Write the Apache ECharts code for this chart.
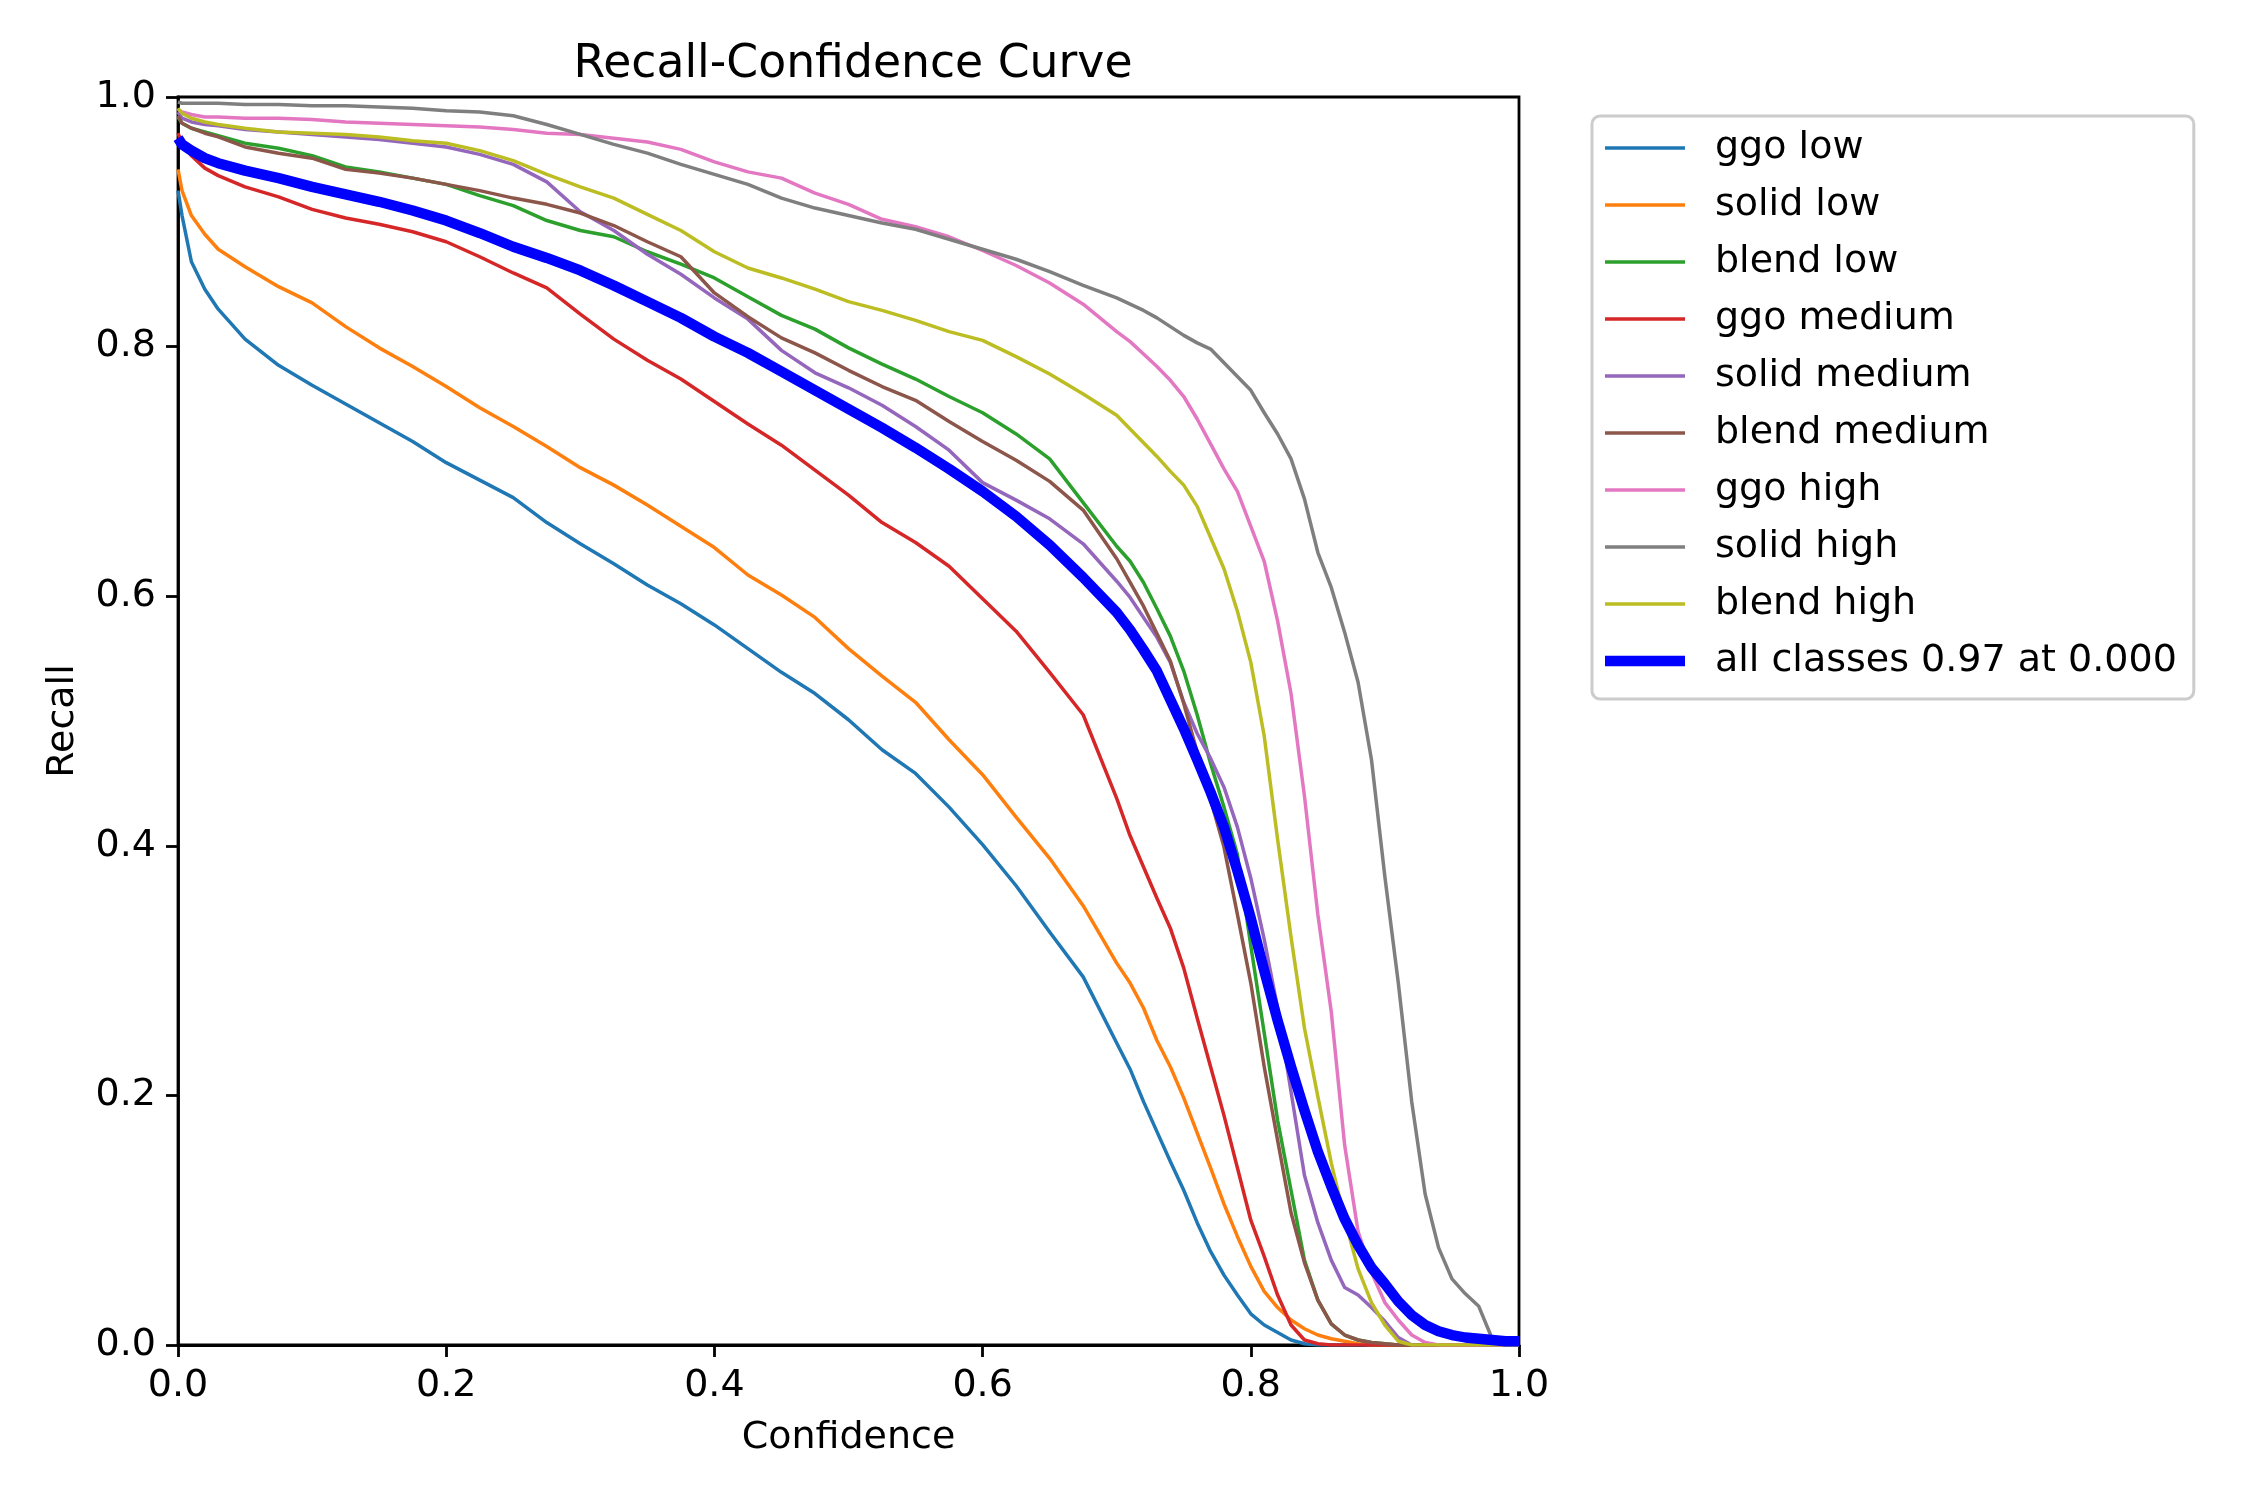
<!DOCTYPE html>
<html>
<head>
<meta charset="utf-8">
<script src="https://cdn.jsdelivr.net/npm/echarts@6/dist/echarts.min.js"></script>
<style>
html,body{margin:0;padding:0;background:#fff;}
#chart{width:2250px;height:1500px;}
</style>
</head>
<body>
<div id="chart"></div>
<script>
// Shared confidence grid (x values)
var confidence = [0, 0.003, 0.01, 0.02, 0.03, 0.05, 0.075, 0.1, 0.125, 0.15, 0.175, 0.2, 0.225, 0.25, 0.275, 0.3, 0.325, 0.35, 0.375, 0.4, 0.425, 0.45, 0.475, 0.5, 0.525, 0.55, 0.575, 0.6, 0.625, 0.65, 0.675, 0.7, 0.71, 0.72, 0.73, 0.74, 0.75, 0.76, 0.77, 0.78, 0.79, 0.8, 0.81, 0.82, 0.83, 0.84, 0.85, 0.86, 0.87, 0.88, 0.89, 0.9, 0.91, 0.92, 0.93, 0.94, 0.95, 0.96, 0.97, 0.98, 0.99, 1.0];

// Recall values per class
var ggoLow = [0.925, 0.905, 0.868, 0.846, 0.830, 0.806, 0.785, 0.769, 0.754, 0.739,
  0.724, 0.707, 0.693, 0.679, 0.659, 0.642, 0.626, 0.609, 0.594, 0.577,
  0.558, 0.539, 0.522, 0.501, 0.477, 0.458, 0.431, 0.401, 0.368, 0.331,
  0.295, 0.242, 0.221, 0.195, 0.171, 0.147, 0.124, 0.098, 0.075, 0.056,
  0.040, 0.025, 0.016, 0.010, 0.004, 0.001, 0, 0, 0, 0,
  0, 0, 0, 0, 0, 0, 0, 0, 0, 0, 0, 0];
var solidLow = [0.942, 0.925, 0.905, 0.890, 0.878, 0.864, 0.848, 0.835, 0.816, 0.799,
  0.784, 0.768, 0.751, 0.736, 0.720, 0.703, 0.689, 0.673, 0.656, 0.639,
  0.617, 0.601, 0.583, 0.558, 0.536, 0.515, 0.485, 0.457, 0.423, 0.390,
  0.352, 0.306, 0.290, 0.270, 0.244, 0.223, 0.198, 0.170, 0.142, 0.113,
  0.087, 0.063, 0.043, 0.030, 0.020, 0.013, 0.008, 0.005, 0.003, 0.001,
  0, 0, 0, 0, 0, 0, 0, 0, 0, 0, 0, 0];
var blendLow = [0.984, 0.979, 0.975, 0.972, 0.969, 0.963, 0.959, 0.953, 0.944, 0.940,
  0.935, 0.930, 0.921, 0.913, 0.901, 0.893, 0.888, 0.876, 0.866, 0.855,
  0.840, 0.825, 0.814, 0.799, 0.786, 0.774, 0.760, 0.747, 0.730, 0.710,
  0.675, 0.640, 0.628, 0.611, 0.590, 0.568, 0.540, 0.505, 0.466, 0.431,
  0.393, 0.320, 0.250, 0.180, 0.124, 0.068, 0.036, 0.017, 0.008, 0.004,
  0.002, 0.001, 0, 0, 0, 0, 0, 0, 0, 0, 0, 0];
var ggoMedium = [0.971, 0.963, 0.953, 0.943, 0.937, 0.928, 0.920, 0.910, 0.903, 0.898,
  0.892, 0.884, 0.872, 0.859, 0.847, 0.826, 0.806, 0.789, 0.774, 0.756,
  0.738, 0.721, 0.701, 0.681, 0.659, 0.643, 0.624, 0.598, 0.572, 0.539,
  0.505, 0.438, 0.408, 0.383, 0.358, 0.334, 0.302, 0.262, 0.223, 0.184,
  0.142, 0.100, 0.071, 0.040, 0.016, 0.004, 0.001, 0, 0, 0,
  0, 0, 0, 0, 0, 0, 0, 0, 0, 0, 0, 0];
var solidMedium = [0.988, 0.983, 0.980, 0.978, 0.977, 0.974, 0.972, 0.970, 0.968, 0.966,
  0.963, 0.960, 0.954, 0.946, 0.932, 0.908, 0.893, 0.874, 0.858, 0.839,
  0.822, 0.797, 0.779, 0.767, 0.753, 0.736, 0.717, 0.691, 0.677, 0.662,
  0.642, 0.612, 0.599, 0.583, 0.567, 0.547, 0.515, 0.490, 0.470, 0.447,
  0.415, 0.374, 0.325, 0.270, 0.203, 0.136, 0.098, 0.068, 0.046, 0.040,
  0.030, 0.019, 0.006, 0, 0, 0, 0, 0, 0, 0, 0, 0];
var blendMedium = [0.985, 0.979, 0.975, 0.971, 0.968, 0.960, 0.955, 0.951, 0.942, 0.939,
  0.935, 0.930, 0.925, 0.919, 0.914, 0.907, 0.897, 0.884, 0.872, 0.843,
  0.824, 0.807, 0.795, 0.781, 0.768, 0.757, 0.740, 0.724, 0.709, 0.692,
  0.669, 0.630, 0.611, 0.592, 0.570, 0.548, 0.514, 0.475, 0.437, 0.399,
  0.345, 0.290, 0.223, 0.164, 0.106, 0.066, 0.036, 0.017, 0.008, 0.004,
  0.002, 0.001, 0, 0, 0, 0, 0, 0, 0, 0, 0, 0];
var ggoHigh = [0.990, 0.988, 0.986, 0.984, 0.984, 0.983, 0.983, 0.982, 0.980, 0.979,
  0.978, 0.977, 0.976, 0.974, 0.971, 0.970, 0.967, 0.964, 0.958, 0.948,
  0.940, 0.935, 0.923, 0.914, 0.902, 0.896, 0.888, 0.877, 0.865, 0.851,
  0.834, 0.812, 0.804, 0.794, 0.784, 0.773, 0.760, 0.742, 0.722, 0.702,
  0.684, 0.656, 0.628, 0.580, 0.522, 0.440, 0.345, 0.267, 0.160, 0.091,
  0.058, 0.034, 0.020, 0.008, 0.002, 0, 0, 0, 0, 0, 0, 0];
var solidHigh = [0.996, 0.995, 0.995, 0.995, 0.995, 0.994, 0.994, 0.993, 0.993, 0.992,
  0.991, 0.989, 0.988, 0.985, 0.978, 0.970, 0.962, 0.955, 0.946, 0.938,
  0.930, 0.919, 0.911, 0.905, 0.899, 0.894, 0.886, 0.878, 0.870, 0.860,
  0.849, 0.839, 0.834, 0.829, 0.823, 0.816, 0.809, 0.803, 0.798, 0.787,
  0.776, 0.765, 0.747, 0.730, 0.710, 0.678, 0.635, 0.607, 0.571, 0.531,
  0.469, 0.375, 0.290, 0.195, 0.121, 0.078, 0.053, 0.041, 0.031, 0.005, 0, 0];
var blendHigh = [0.991, 0.987, 0.983, 0.980, 0.978, 0.975, 0.972, 0.971, 0.970, 0.968,
  0.965, 0.963, 0.957, 0.949, 0.938, 0.928, 0.919, 0.906, 0.893, 0.876,
  0.863, 0.855, 0.846, 0.836, 0.829, 0.821, 0.812, 0.805, 0.792, 0.778,
  0.762, 0.745, 0.734, 0.723, 0.712, 0.700, 0.689, 0.672, 0.647, 0.622,
  0.588, 0.547, 0.488, 0.405, 0.327, 0.254, 0.199, 0.146, 0.101, 0.061,
  0.034, 0.016, 0.003, 0, 0, 0, 0, 0, 0, 0, 0, 0];
var allClasses = [0.967, 0.962, 0.957, 0.951, 0.947, 0.941, 0.935, 0.928, 0.922, 0.916,
  0.909, 0.901, 0.891, 0.880, 0.871, 0.861, 0.849, 0.836, 0.823, 0.808,
  0.795, 0.780, 0.765, 0.750, 0.735, 0.719, 0.702, 0.684, 0.664, 0.641,
  0.615, 0.587, 0.573, 0.557, 0.540, 0.517, 0.494, 0.469, 0.443, 0.415,
  0.380, 0.342, 0.300, 0.260, 0.223, 0.188, 0.155, 0.127, 0.101, 0.080,
  0.062, 0.049, 0.035, 0.024, 0.016, 0.011, 0.008, 0.006, 0.005, 0.004, 0.003, 0.003];

var classNames = ['ggo low', 'solid low', 'blend low', 'ggo medium', 'solid medium', 'blend medium', 'ggo high', 'solid high', 'blend high'];
var classValues = [ggoLow, solidLow, blendLow, ggoMedium, solidMedium, blendMedium, ggoHigh, solidHigh, blendHigh];
var classColors = ['#1f77b4', '#ff7f0e', '#2ca02c', '#d62728', '#9467bd', '#8c564b', '#e377c2', '#7f7f7f', '#bcbd22'];
var allName = 'all classes 0.97 at 0.000';
var allColor = '#0000ff';

function pairs(vals) {
  return confidence.map(function (c, i) { return [c, vals[i]]; });
}

var FONT = 'DejaVu Sans';
var FS = 38;
var series = classNames.map(function (n, i) {
  return {
    name: n, type: 'line', data: pairs(classValues[i]),
    showSymbol: false, symbol: 'none', animation: false,
    lineStyle: { width: 3.5, color: classColors[i], join: 'round' },
    itemStyle: { color: classColors[i] }
  };
});
series.push({
  name: allName, type: 'line', data: pairs(allClasses),
  showSymbol: false, symbol: 'none', animation: false,
  lineStyle: { width: 10.4, color: allColor, join: 'round' },
  itemStyle: { color: allColor }
});

var legendData = classNames.map(function (n) {
  return { name: n, icon: 'path://M0,0H80V3.5H0Z' };
});
legendData.push({ name: allName, icon: 'path://M0,0H80V10.4H0Z' });

var axisCommon = {
  type: 'value', min: 0, max: 1, interval: 0.2,
  splitLine: { show: false },
  axisLine: { show: true, onZero: false, lineStyle: { color: '#000', width: 2.8 } },
  axisTick: { show: true, inside: false, length: 12, lineStyle: { color: '#000', width: 2.8 } },
  axisLabel: { margin: 22, color: '#000', fontSize: FS, fontFamily: FONT,
    formatter: function (v) { return v.toFixed(1); } },
  nameTextStyle: { color: '#000', fontSize: FS, fontFamily: FONT }
};

var chart = echarts.init(document.getElementById('chart'), null, { renderer: 'canvas' });
chart.setOption({
  backgroundColor: '#ffffff',
  animation: false,
  title: {
    text: 'Recall-Confidence Curve', left: 848, top: 37, textAlign: 'center',
    textStyle: { color: '#000', fontSize: 45.7, fontWeight: 'normal', fontFamily: FONT }
  },
  grid: { left: 178, right: 731, top: 97, bottom: 155, show: true, borderColor: '#000', borderWidth: 2.8, containLabel: false },
  xAxis: Object.assign({}, axisCommon, { name: 'Confidence', nameLocation: 'middle', nameGap: 74 }),
  yAxis: Object.assign({}, axisCommon, { name: 'Recall', nameLocation: 'middle', nameGap: 96, nameRotate: 90 }),
  legend: {
    orient: 'vertical', left: 1592, top: 116,
    padding: [13, 17, 19, 13], itemGap: 19, itemWidth: 80, itemHeight: 12,
    symbolKeepAspect: true,
    itemStyle: { borderWidth: 0 },
    backgroundColor: 'rgba(255,255,255,0.8)', borderColor: '#cccccc', borderWidth: 3, borderRadius: 8,
    textStyle: { color: '#000', fontSize: FS, fontFamily: FONT, lineHeight: 38, padding: [0, 0, 0, 25] },
    data: legendData
  },
  series: series
});
</script>
</body>
</html>
